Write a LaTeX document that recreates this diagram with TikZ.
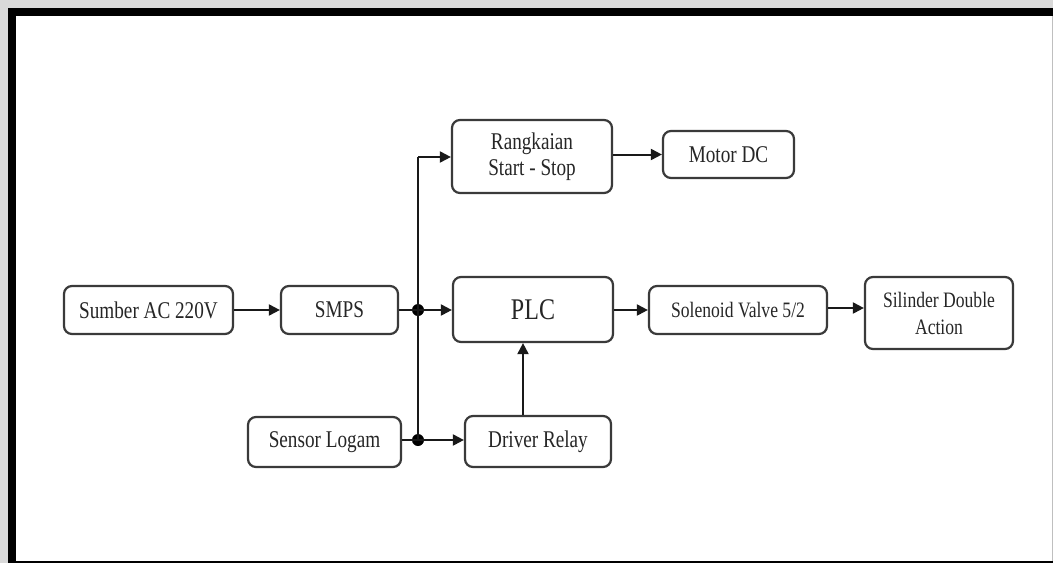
\documentclass[tikz,border=0pt]{standalone}
\usepackage{fontspec}
\setmainfont{Liberation Serif}[FakeStretch=0.8]
\usetikzlibrary{arrows.meta}
\definecolor{boxline}{HTML}{3A3A3A}
\definecolor{txtcol}{HTML}{262626}
\definecolor{bggray}{HTML}{D9D9D9}
\tikzset{
  blk/.style={draw=boxline, line width=2.2pt, rounded corners=8pt, fill=white,
    inner sep=0pt, align=center, text=txtcol,
    font=\fontsize{24}{26}\selectfont},
  blksmall/.style={blk, font=\fontsize{22}{27}\selectfont},
  blkbig/.style={blk, font=\fontsize{30}{32}\selectfont},
  arr/.style={draw=black!90, line width=2pt, -{Triangle[length=11pt,width=11pt]}},
  wire/.style={draw=black!90, line width=2pt},
  jdot/.style={circle, fill=black, inner sep=0pt, minimum size=12pt}
}
\begin{document}
\begin{tikzpicture}[x=1pt,y=-1pt]
\useasboundingbox (0,0) rectangle (1053,563);
% frame
\fill[bggray] (0,0) rectangle (1053,563);
\fill[white] (16,16) rectangle (1052,562);
\fill[black] (8,8) rectangle (1053,16);
\fill[black] (8,8) rectangle (16,563);
\fill[black] (16,561) rectangle (1053,563);
\fill[black!25] (1051.5,16) rectangle (1053,561);
% nodes
\node[blk, minimum width=169pt, minimum height=48pt] (sumber) at (148.5,310) {Sumber AC 220V};
\node[blk, minimum width=117pt, minimum height=48pt] (smps) at (339.5,310) {SMPS};
\node[blk, minimum width=153pt, minimum height=50pt] (sensor) at (324.5,442) {Sensor Logam};
\node[blkbig, minimum width=160pt, minimum height=65pt] (plc) at (533,309.5) {PLC};
\node[blk, minimum width=146pt, minimum height=51pt] (driver) at (538,441.5) {Driver Relay};
\node[blksmall, minimum width=178pt, minimum height=48pt] (solenoid) at (738,310) {Solenoid Valve 5/2};
\node[blksmall, minimum width=148pt, minimum height=72pt] (silinder) at (939,313) {Silinder Double\\Action};
\node[blk, minimum width=160pt, minimum height=73pt] (rangkaian) at (532,156.5) {Rangkaian\\Start - Stop};
\node[blk, minimum width=131pt, minimum height=47pt] (motor) at (728.5,154.5) {Motor DC};
% junctions
\node[jdot] (j1) at (418,310) {};
\node[jdot] (j2) at (418,440) {};
\coordinate (top) at (418,157);
% connectors
\draw[arr] (sumber.east) -- (smps.west);
\draw[wire] (smps.east) -- (j1.center);
\draw[arr] (j1.center) -- (j1.center -| plc.west);
\draw[wire] (sensor.east |- j2) -- (j2.center);
\draw[arr] (j2.center) -- (j2.center -| driver.west);
\draw[wire] (j2.center) -- (top);
\draw[arr] (top) -- (top -| rangkaian.west);
\draw[arr] (rangkaian.east |- motor.west) -- (motor.west);
\draw[arr] ([xshift=-15pt]driver.north) -- ([xshift=-15pt]driver.north |- plc.south);
\draw[arr] (plc.east |- solenoid.west) -- (solenoid.west);
\draw[arr] (solenoid.east |- 0,308) -- (silinder.west |- 0,308);
\end{tikzpicture}
\end{document}
